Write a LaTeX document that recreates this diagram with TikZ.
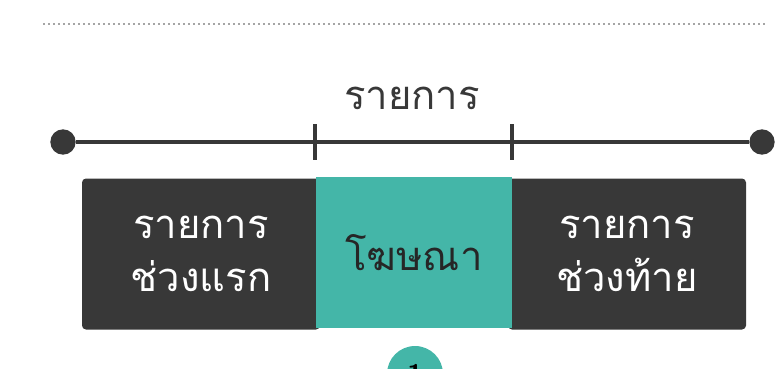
\documentclass[tikz,border=0pt]{standalone}
\usepackage{fontspec}
\newfontfamily\thaifont[Script=Thai]{Loma}
\usetikzlibrary{positioning}
\definecolor{mydark}{RGB}{56,56,56}
\definecolor{myteal}{RGB}{68,182,168}
\definecolor{mydots}{RGB}{165,165,165}

\begin{document}
\begin{tikzpicture}[x=0.75pt, y=-0.75pt,
  seg/.style={minimum height=113.25pt, inner sep=0pt, align=center, text=white,
    font=\thaifont\fontsize{30}{40}\selectfont},
  enddot/.style={circle, fill=mydark, minimum size=19pt, inner sep=0pt}]
\useasboundingbox (0,0) rectangle (780,368);
\draw[mydots, line width=1.5pt, dash pattern=on 1.5pt off 2.25pt] (43,24) -- (768,24);
% blocks
\node[seg, fill=mydark, rounded corners=3pt, minimum width=178.5pt] (first) at (201,254) {รายการ\\ช่วงแรก};
\node[seg, fill=mydark, rounded corners=3pt, minimum width=178.5pt] (last) at (627,254) {รายการ\\ช่วงท้าย};
\node[seg, fill=myteal, text=black!85, minimum width=147pt] (ads) at (414,252.5) {โฆษณา};
% timeline
\node[enddot] (start) at (63,142) {};
\node[enddot] (stop) at (762,142) {};
\draw[mydark, line width=3pt] (start) -- (stop);
\coordinate (t1) at (315,142);
\coordinate (t2) at (512,142);
\draw[mydark, line width=2.5pt] ([yshift=13.5pt]t1) -- ([yshift=-13.5pt]t1);
\draw[mydark, line width=2.5pt] ([yshift=13.5pt]t2) -- ([yshift=-13.5pt]t2);
\node[font=\thaifont\fontsize{30}{36}\selectfont, text=mydark] (prog) at (412,98) {รายการ};
% badge
\node[circle, fill=myteal, minimum size=42pt, inner sep=0pt, font=\sffamily\bfseries\fontsize{20}{24}\selectfont] (num) at (415,374) {1};
\end{tikzpicture}
\end{document}
